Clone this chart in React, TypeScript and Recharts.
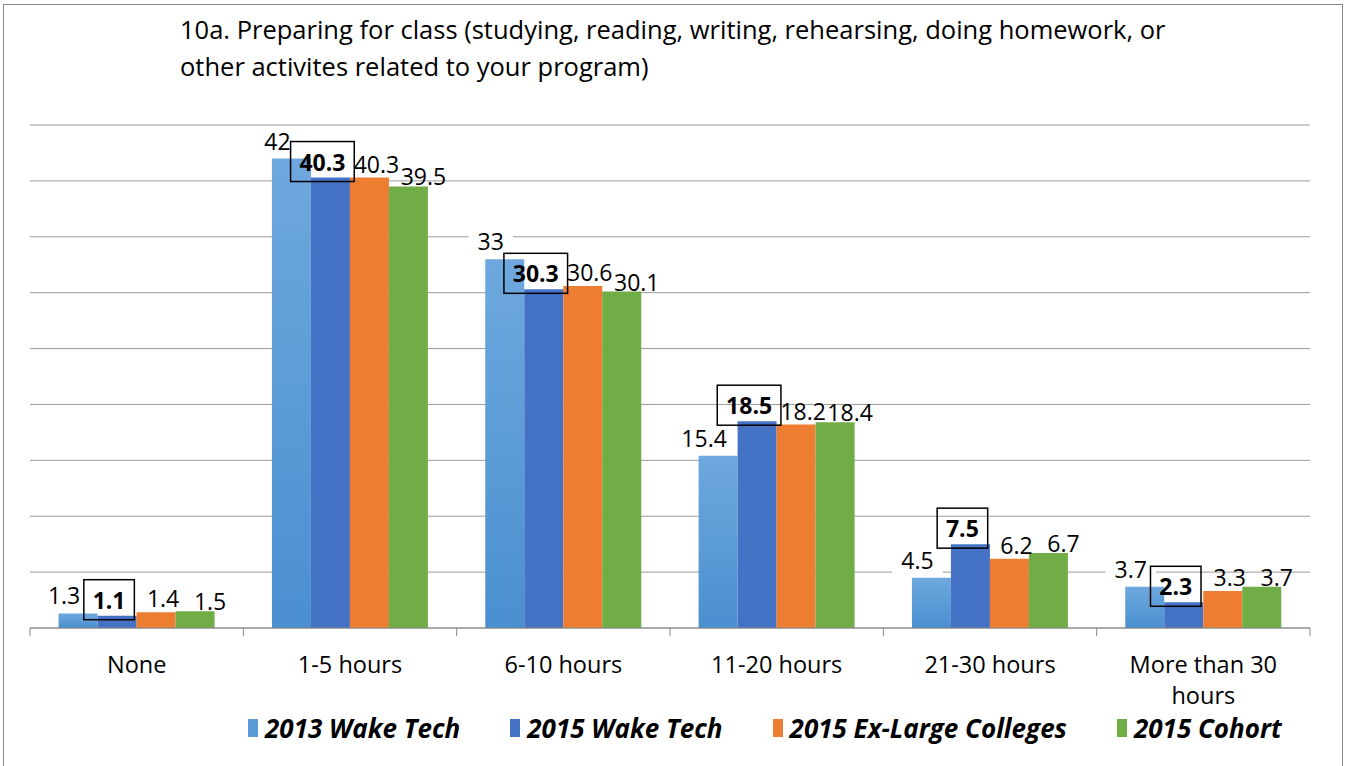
import React from 'react';
import { BarChart, Bar, XAxis, YAxis, CartesianGrid, Legend, LabelList } from 'recharts';

const categories = ['None', '1-5 hours', '6-10 hours', '11-20 hours', '21-30 hours', 'More than 30 hours'];
const wake2013 = [1.3, 42, 33, 15.4, 4.5, 3.7];
const wake2015 = [1.1, 40.3, 30.3, 18.5, 7.5, 2.3];
const exLarge2015 = [1.4, 40.3, 30.6, 18.2, 6.2, 3.3];
const cohort2015 = [1.5, 39.5, 30.1, 18.4, 6.7, 3.7];
const yTicks = [0, 5, 10, 15, 20, 25, 30, 35, 40, 45];

const seriesNames = ['2013 Wake Tech', '2015 Wake Tech', '2015 Ex-Large Colleges', '2015 Cohort'];
const colors = ['#5B9BD5', '#4472C4', '#ED7D31', '#70AD47'];

const data = categories.map((name, i) => ({
  name,
  a: wake2013[i],
  b: wake2015[i],
  c: exLarge2015[i],
  d: cohort2015[i],
}));

const FONT = '"Open Sans", "Noto Sans", sans-serif';
const W = 1347;
const H = 766;
const M = { top: 125, left: 30, right: 37, bottom: 98 };
const band = (W - M.left - M.right) / categories.length;
const LABEL_FS = 23;

// rough text width for the label boxes
const textW = (s: string, fs: number) =>
  s.split('').reduce((acc, ch) => acc + (ch === '.' ? 0.27 : 0.572), 0) * fs;

const makeLabel = (dx: number, dy: number, bg: boolean) => (props: any) => {
  const { x, y, width, value } = props;
  const cx = x + width / 2 + dx;
  const cy = y + dy;
  const s = String(value);
  const tw = textW(s, LABEL_FS);
  return (
    <g>
      {bg && <rect x={cx - tw / 2 - 9} y={cy - 14} width={tw + 18} height={28} fill="#fff" />}
      <text x={cx} y={cy} textAnchor="middle" dominantBaseline="central" fontSize={LABEL_FS} fontFamily={FONT} fill="#000">
        {s}
      </text>
    </g>
  );
};

const boxLabel = (props: any) => {
  const { x, y, width, value } = props;
  const cx = x + width / 2 - 8;
  const cy = y - 16;
  const s = String(value);
  const tw = textW(s, LABEL_FS);
  const bw = tw + 18;
  return (
    <g>
      <rect x={cx - bw / 2} y={cy - 20} width={bw} height={40} fill="none" stroke="#000" strokeWidth={1.5} />
      <text x={cx} y={cy} textAnchor="middle" dominantBaseline="central" fontSize={LABEL_FS} fontWeight="bold" fontFamily={FONT} fill="#000">
        {s}
      </text>
    </g>
  );
};

const CategoryTick = (props: any) => {
  const { x, payload, index } = props;
  const words = String(payload.value).split(' ');
  const lines: string[] = [];
  words.forEach((w) => {
    const last = lines[lines.length - 1];
    if (last && (last + ' ' + w).length <= 12) lines[lines.length - 1] = last + ' ' + w;
    else lines.push(w);
  });
  const base = H - M.bottom - 40;
  return (
    <g>
      <line x1={x - band / 2} x2={x - band / 2} y1={base} y2={base + 8} stroke="#868686" />
      {index === categories.length - 1 && (
        <line x1={x + band / 2} x2={x + band / 2} y1={base} y2={base + 8} stroke="#868686" />
      )}
      {lines.map((l, i) => (
        <text key={i} x={x} y={base + 36 + i * 31} textAnchor="middle" dominantBaseline="central" fontSize={23.5} fontFamily={FONT} fill="#000">
          {l}
        </text>
      ))}
    </g>
  );
};

const LegendContent = () => (
  <div style={{ display: 'flex', alignItems: 'center', fontFamily: FONT, fontSize: 26, lineHeight: '24px', fontWeight: 'bold', fontStyle: 'italic', whiteSpace: 'nowrap' }}>
    {seriesNames.map((n, i) => (
      <div key={n} style={{ display: 'flex', alignItems: 'center', marginRight: 50 }}>
        <span style={{ display: 'inline-block', width: 10, height: 18, background: colors[i], marginRight: 7 }} />
        <span>{n}</span>
      </div>
    ))}
  </div>
);

export default function App() {
  return (
    <div style={{ position: 'absolute', left: 0, top: 0, width: W, height: H, background: '#fff', overflow: 'hidden' }}>
      <div style={{ position: 'absolute', left: 3, top: 4, width: 1338, height: 820, border: '1px solid #898989' }} />
      <div style={{ position: 'absolute', left: 180, top: 11, width: 1120, fontFamily: FONT, fontSize: 25.5, lineHeight: '37px', color: '#000', whiteSpace: 'nowrap' }}>
        10a. Preparing for class (studying, reading, writing, rehearsing, doing homework, or
        <br />
        other activites related to your program)
      </div>
      <div style={{ position: 'absolute', left: 0, top: 0 }}>
        <BarChart width={W} height={H} data={data} margin={M} barCategoryGap="13.4%" barGap={0}>
          <defs>
            <linearGradient id="g2013" x1="0" y1="0" x2="0" y2="1">
              <stop offset="0%" stopColor="#6EA8DE" />
              <stop offset="100%" stopColor="#4A8FD0" />
            </linearGradient>
          </defs>
          <CartesianGrid vertical={false} stroke="#9a9a9a" />
          <XAxis dataKey="name" height={40} stroke="#868686" tickLine={false} tick={<CategoryTick />} interval={0} />
          <YAxis hide domain={[0, 45]} ticks={yTicks} />
          <Legend
            layout="horizontal"
            verticalAlign="middle"
            content={<LegendContent />}
            wrapperStyle={{ top: 716, left: 248, width: 'auto' }}
          />
          <Bar dataKey="a" name={seriesNames[0]} fill="url(#g2013)" isAnimationActive={false}>
            <LabelList dataKey="a" content={makeLabel(-14, -18, true)} />
          </Bar>
          <Bar dataKey="b" name={seriesNames[1]} fill={colors[1]} isAnimationActive={false}>
            <LabelList dataKey="b" content={boxLabel} />
          </Bar>
          <Bar dataKey="c" name={seriesNames[2]} fill={colors[2]} isAnimationActive={false}>
            <LabelList dataKey="c" content={makeLabel(7, -14, false)} />
          </Bar>
          <Bar dataKey="d" name={seriesNames[3]} fill={colors[3]} isAnimationActive={false}>
            <LabelList dataKey="d" content={makeLabel(15, -10, false)} />
          </Bar>
        </BarChart>
      </div>
    </div>
  );
}
